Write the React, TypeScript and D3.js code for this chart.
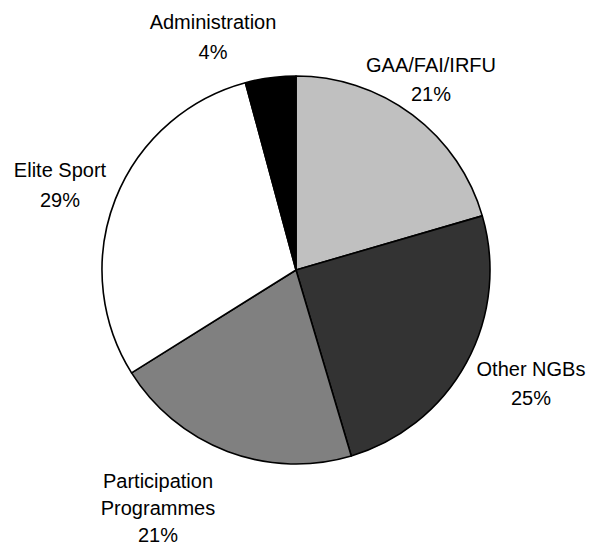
import React from "react";
import * as d3 from "d3";

const categories = ["GAA/FAI/IRFU", "Other NGBs", "Participation Programmes", "Elite Sport", "Administration"];
const values = [20.5, 24.9, 20.7, 29.7, 4.2];
const valueLabels = ["21%", "25%", "21%", "29%", "4%"];
const labelLines = [["GAA/FAI/IRFU"], ["Other NGBs"], ["Participation", "Programmes"], ["Elite Sport"], ["Administration"]];
const colors = ["#c0c0c0", "#333333", "#808080", "#ffffff", "#000000"];

// layout: label anchor (center x, first baseline y)
const labelAnchors = [
  [431, 72],
  [531, 376],
  [158, 488],
  [60, 177],
  [213, 29],
];
const lineHeights = [29, 29, 27, 29.5, 30];

const W = 589;
const H = 545;
const cx = 296;
const cy = 270;
const R = 194;

export default function App() {
  const data = categories.map((c, i) => ({ c, v: values[i], i }));
  const pie = d3.pie<any>().value((d) => d.v).sort(null).startAngle(0).endAngle(2 * Math.PI);
  const arcs = pie(data);
  const arc = d3.arc<any>().innerRadius(0).outerRadius(R);
  return (
    <svg
      width={W}
      height={H}
      style={{ position: "absolute", left: 0, top: 0, background: "#fff" }}
      fontFamily="'Liberation Sans', Arial, sans-serif"
    >
      <g transform={`translate(${cx},${cy})`}>
        {arcs.map((a, i) => (
          <path key={i} d={arc(a) as string} fill={colors[i]} stroke="#000" strokeWidth={1.6} strokeLinejoin="round" />
        ))}
      </g>
      {labelLines.map((lines, i) => {
        const [x, y] = labelAnchors[i];
        const all = [...lines, valueLabels[i]];
        return (
          <text key={i} x={x} y={y} textAnchor="middle" fontSize={20} fill="#000">
            {all.map((t, j) => (
              <tspan key={j} x={x} y={y + j * lineHeights[i]}>
                {t}
              </tspan>
            ))}
          </text>
        );
      })}
    </svg>
  );
}
